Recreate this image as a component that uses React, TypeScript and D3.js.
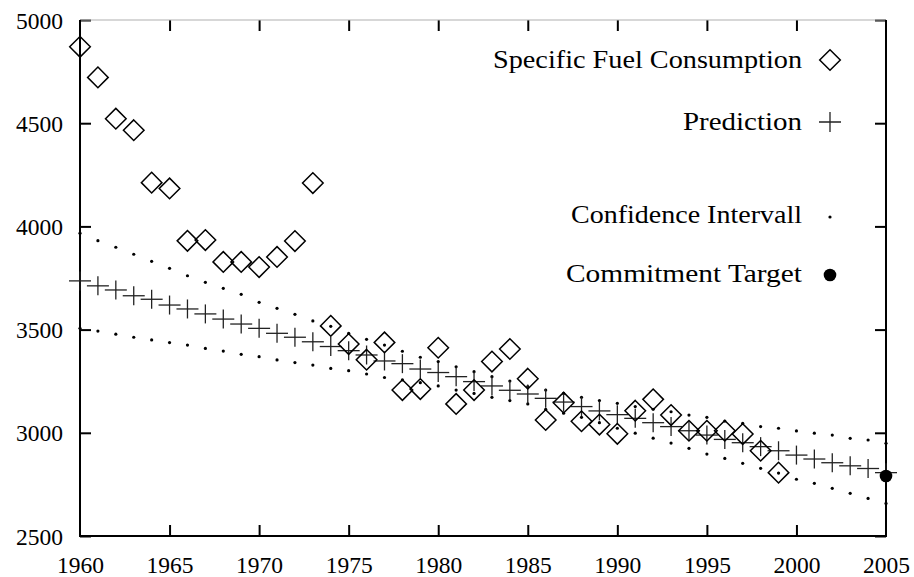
import React, { useEffect, useRef } from 'react';
import * as d3 from 'd3';

// years on the x axis, one mark per year
const years = d3.range(1960, 2006);

// measured specific fuel consumption, 1960..1999
const consumption = [
  4870, 4722, 4522, 4466, 4212, 4184, 3930, 3934, 3828, 3828,
  3803, 3852, 3929, 4210, 3518, 3430, 3354, 3438, 3207, 3212,
  3412, 3140, 3207, 3345, 3406, 3262, 3062, 3146, 3056, 3040,
  2995, 3107, 3162, 3086, 3010, 3010, 3010, 2994, 2913, 2807
];

// regression prediction, 1960..2005
const prediction = [
  3736, 3712, 3692, 3664, 3647, 3619, 3600, 3576, 3551, 3527,
  3506, 3482, 3463, 3441, 3418, 3398, 3377, 3348, 3335, 3309,
  3292, 3272, 3248, 3227, 3206, 3188, 3167, 3149, 3127, 3106,
  3088, 3070, 3049, 3030, 3010, 2989, 2968, 2952, 2933, 2913,
  2892, 2873, 2855, 2840, 2827, 2807
];

// confidence interval, upper and lower bound, 1960..2005
const upperBound = [
  3967, 3931, 3899, 3865, 3831, 3797, 3761, 3729, 3700, 3671,
  3632, 3603, 3574, 3542, 3516, 3482, 3453, 3425, 3395, 3366,
  3345, 3320, 3296, 3272, 3251, 3224, 3207, 3191, 3172, 3156,
  3143, 3127, 3114, 3102, 3086, 3075, 3057, 3046, 3030, 3022,
  3009, 2998, 2989, 2973, 2965, 2949
];
const lowerBound = [
  3506, 3493, 3478, 3463, 3450, 3437, 3425, 3409, 3396, 3380,
  3369, 3353, 3340, 3328, 3312, 3301, 3285, 3268, 3256, 3243,
  3227, 3207, 3191, 3172, 3156, 3140, 3114, 3095, 3075, 3049,
  3022, 2998, 2974, 2950, 2925, 2897, 2876, 2852, 2828, 2805,
  2775, 2755, 2731, 2707, 2682, 2658
];

const targetYear = 2005;
const targetValue = 2791;

const xTicks = [1960, 1965, 1970, 1975, 1980, 1985, 1990, 1995, 2000, 2005];
const yTicks = [2500, 3000, 3500, 4000, 4500, 5000];

const legendLabels = [
  'Specific Fuel Consumption',
  'Prediction',
  'Confidence Intervall',
  'Commitment Target'
];

const FONT = "'Liberation Serif', 'Noto Serif', 'Times New Roman', Times, 'Nimbus Roman', Tinos, 'FreeSerif', 'DejaVu Serif', serif";

function diamond(cx: number, cy: number, r: number) {
  return `M${cx},${cy - r}L${cx + r},${cy}L${cx},${cy + r}L${cx - r},${cy}Z`;
}

export default function App() {
  const ref = useRef<SVGSVGElement>(null);

  useEffect(() => {
    const svg = d3.select(ref.current);
    svg.selectAll('*').remove();

    const left = 80, right = 886, top = 20, bottom = 536;
    const tick = 11;

    const x = d3.scaleLinear().domain([1960, 2005]).range([left, right]);
    const y = d3.scaleLinear().domain([2500, 5000]).range([bottom, top]);

    svg.append('rect').attr('width', 914).attr('height', 577).attr('fill', '#fff');

    // axes with inward ticks, mirrored on top and right
    const xAxis = svg.append('g')
      .attr('transform', `translate(0,${bottom})`)
      .call(d3.axisBottom(x).tickValues(xTicks).tickFormat(d3.format('d'))
        .tickSizeInner(-tick).tickSizeOuter(0).tickPadding(20));
    const xTop = svg.append('g')
      .attr('transform', `translate(0,${top})`)
      .call(d3.axisTop(x).tickValues(xTicks).tickFormat(() => '')
        .tickSizeInner(-tick).tickSizeOuter(0));
    const yAxis = svg.append('g')
      .attr('transform', `translate(${left},0)`)
      .call(d3.axisLeft(y).tickValues(yTicks).tickFormat(d3.format('d'))
        .tickSizeInner(-tick).tickSizeOuter(0).tickPadding(17));
    const yRight = svg.append('g')
      .attr('transform', `translate(${right},0)`)
      .call(d3.axisRight(y).tickValues(yTicks).tickFormat(() => '')
        .tickSizeInner(-tick).tickSizeOuter(0));

    [xAxis, xTop, yAxis, yRight].forEach(g => {
      g.attr('font-family', null).attr('font-size', null);
      g.select('.domain').remove();
      g.selectAll('line').attr('stroke', '#000').attr('stroke-width', 2);
      g.selectAll('text')
        .attr('fill', '#000')
        .style('font-family', FONT)
        .style('font-size', '23.5px');
    });
    yAxis.selectAll('text').attr('dy', '0.34em');
    // skip corner ticks that sit on the frame
    xAxis.selectAll('.tick line').filter((d: any) => d === 1960 || d === 2005).remove();
    xTop.selectAll('.tick line').filter((d: any) => d === 1960 || d === 2005).remove();

    // frame
    svg.append('line').attr('x1', left).attr('x2', right).attr('y1', top).attr('y2', top)
      .attr('stroke', '#b0b0b0').attr('stroke-width', 1.2);
    svg.append('path')
      .attr('d', `M${left},${top}V${bottom}H${right}V${top}`)
      .attr('fill', 'none').attr('stroke', '#000').attr('stroke-width', 2);

    const plot = svg.append('g');

    // confidence interval dots
    const bounds = years.flatMap((yr, i) => [
      { yr, v: upperBound[i] },
      { yr, v: lowerBound[i] }
    ]);
    plot.selectAll('circle.ci')
      .data(bounds)
      .enter()
      .append('circle')
      .attr('class', 'ci')
      .attr('cx', d => x(d.yr))
      .attr('cy', d => y(d.v))
      .attr('r', 1.6)
      .attr('fill', '#000');

    // prediction crosses
    const cross = plot.selectAll('g.pred')
      .data(years.map((yr, i) => ({ yr, v: prediction[i] })))
      .enter()
      .append('g')
      .attr('class', 'pred')
      .attr('transform', d => `translate(${x(d.yr)},${y(d.v)})`)
      .attr('stroke', '#222')
      .attr('stroke-width', 1.3);
    cross.append('line').attr('x1', -11).attr('x2', 11);
    cross.append('line').attr('y1', -9.5).attr('y2', 9.5);

    // measured values as diamonds
    plot.selectAll('path.sfc')
      .data(consumption.map((v, i) => ({ yr: years[i], v })))
      .enter()
      .append('path')
      .attr('class', 'sfc')
      .attr('d', d => diamond(x(d.yr), y(d.v), 10.3))
      .attr('fill', 'none')
      .attr('stroke', '#000')
      .attr('stroke-width', 1.5);

    // commitment target
    plot.append('circle')
      .attr('cx', x(targetYear))
      .attr('cy', y(targetValue))
      .attr('r', 6.3)
      .attr('fill', '#000');

    // legend
    const rows = [
      { base: 68, sym: 60, width: 309 },
      { base: 130, sym: 122, width: 119 },
      { base: 223, sym: 217, width: 231 },
      { base: 282, sym: 275, width: 236 }
    ];
    const legend = svg.append('g');
    rows.forEach((r, i) => {
      legend.append('text')
        .attr('x', 802)
        .attr('y', r.base)
        .attr('text-anchor', 'end')
        .attr('textLength', r.width)
        .attr('lengthAdjust', 'spacingAndGlyphs')
        .attr('fill', '#000')
        .style('font-family', FONT)
        .style('font-size', '26px')
        .text(legendLabels[i]);
    });
    const lx = 830;
    legend.append('path').attr('d', diamond(lx, rows[0].sym, 10.3))
      .attr('fill', 'none').attr('stroke', '#000').attr('stroke-width', 1.5);
    legend.append('path').attr('d', `M${lx - 11},${rows[1].sym}H${lx + 11}M${lx},${rows[1].sym - 10}V${rows[1].sym + 10}`)
      .attr('stroke', '#222').attr('stroke-width', 1.3);
    legend.append('circle').attr('cx', lx).attr('cy', rows[2].sym).attr('r', 1.6).attr('fill', '#000');
    legend.append('circle').attr('cx', lx).attr('cy', rows[3].sym).attr('r', 6.3).attr('fill', '#000');
  }, []);

  return (
    <svg
      ref={ref}
      width={914}
      height={577}
      style={{ position: 'absolute', left: 0, top: 0, display: 'block', fontFamily: FONT }}
    />
  );
}
